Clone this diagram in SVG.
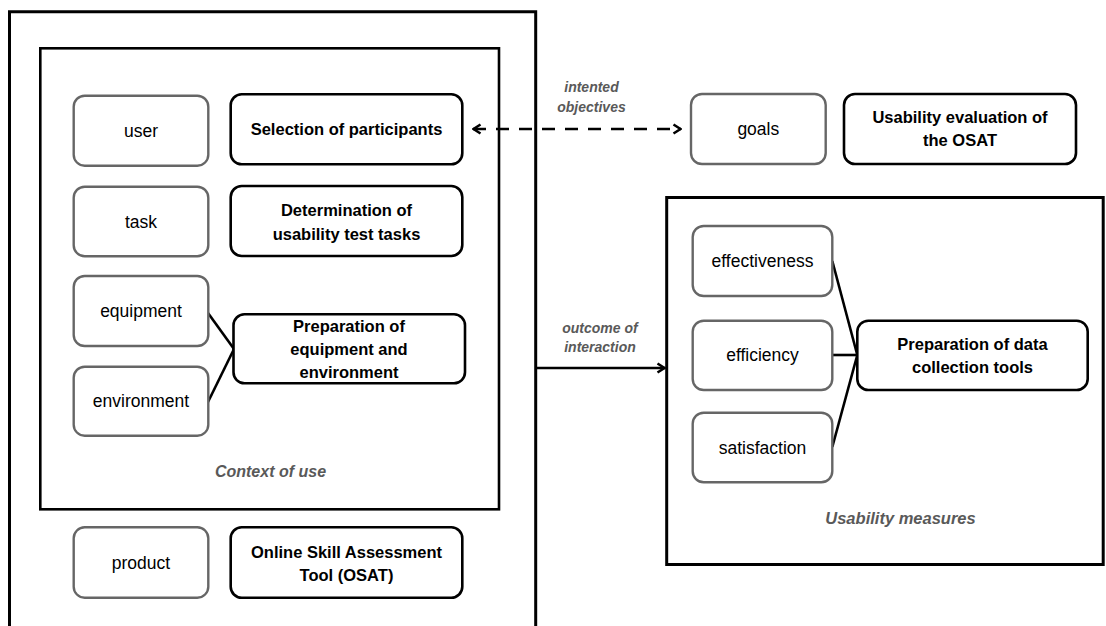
<svg xmlns="http://www.w3.org/2000/svg" width="1106" height="626" viewBox="0 0 1106 626">
<style>
  .frame{fill:none;stroke:#000;stroke-width:3}
  .ctx{fill:#fff;stroke:#000;stroke-width:2.6}
  .attr{fill:#fff;stroke:#666;stroke-width:2.4}
  .act{fill:#fff;stroke:#000;stroke-width:2.6}
  .lbl{font-family:"Liberation Sans",Arial,sans-serif;font-size:17.5px;fill:#000;text-anchor:middle}
  .bold{font-weight:bold;font-size:16.5px}
  .cap{font-family:"Liberation Sans",Arial,sans-serif;font-style:italic;font-weight:bold;fill:#595959;text-anchor:middle}
  .conn{fill:none;stroke:#000;stroke-width:2.6}
</style>
<defs>
  <marker id="chev" viewBox="0 0 10 12" refX="9" refY="6" markerWidth="10" markerHeight="12" markerUnits="userSpaceOnUse" orient="auto-start-reverse">
    <path d="M1.5,1.5 L8.5,6 L1.5,10.5" fill="none" stroke="#000" stroke-width="2.6"/>
  </marker>
</defs>
<rect width="1106" height="626" fill="#fff"/>

<g id="frame-outer">
  <path class="frame" d="M9.5,630 V11.7 H535.7 V630"/>
</g>
<g id="context-of-use">
  <rect class="ctx" x="40.3" y="48.3" width="458.7" height="461"/>
  <text class="cap" x="270.5" y="477" font-size="16">Context of use</text>
</g>
<g id="usability-measures">
  <rect class="frame" x="666.7" y="197.5" width="436.5" height="367"/>
  <text class="cap" x="900.5" y="523.5" font-size="16.5">Usability measures</text>
</g>

<g id="connectors">
  <line class="conn" x1="473" y1="129" x2="681" y2="129" stroke-width="3" stroke-dasharray="13 10" marker-start="url(#chev)" marker-end="url(#chev)"/>
  <line class="conn" x1="536" y1="368" x2="665" y2="368" marker-end="url(#chev)"/>
  <line class="conn" x1="208" y1="313" x2="234" y2="349"/>
  <line class="conn" x1="208" y1="402" x2="234" y2="349"/>
  <line class="conn" x1="832.3" y1="261" x2="857.3" y2="355"/>
  <line class="conn" x1="832.3" y1="355" x2="857.3" y2="355" stroke-width="3.4"/>
  <line class="conn" x1="832.3" y1="447" x2="857.3" y2="355"/>
</g>
<g id="connector-labels">
  <text class="cap" x="591.5" y="92" font-size="14">intented</text>
  <text class="cap" x="591.5" y="112" font-size="14">objectives</text>
  <text class="cap" x="600" y="333" font-size="14">outcome of</text>
  <text class="cap" x="600" y="352" font-size="14">interaction</text>
</g>

<g id="user">
  <rect class="attr" x="73.7" y="95.7" width="134.6" height="70" rx="11"/>
  <text class="lbl" x="141" y="137">user</text>
</g>
<g id="selection">
  <rect class="act" x="230.7" y="94.3" width="231.6" height="70" rx="11"/>
  <text class="lbl bold" x="346.5" y="135">Selection of participants</text>
</g>
<g id="task">
  <rect class="attr" x="73.7" y="186.7" width="134.6" height="69.5" rx="11"/>
  <text class="lbl" x="141" y="227.5">task</text>
</g>
<g id="determination">
  <rect class="act" x="230.7" y="186" width="231.6" height="70" rx="11"/>
  <text class="lbl bold" x="346.5" y="216">Determination of</text>
  <text class="lbl bold" x="346.5" y="239.5">usability test tasks</text>
</g>
<g id="equipment">
  <rect class="attr" x="73.7" y="276" width="134.6" height="70" rx="11"/>
  <text class="lbl" x="141" y="317">equipment</text>
</g>
<g id="environment">
  <rect class="attr" x="73.7" y="366.7" width="134.6" height="69" rx="11"/>
  <text class="lbl" x="141" y="407">environment</text>
</g>
<g id="prep-equipment">
  <rect class="act" x="233.5" y="314.3" width="231.5" height="69" rx="11"/>
  <text class="lbl bold" x="349" y="332">Preparation of</text>
  <text class="lbl bold" x="349" y="355">equipment and</text>
  <text class="lbl bold" x="349" y="378">environment</text>
</g>
<g id="product">
  <rect class="attr" x="73.7" y="527.3" width="134.6" height="70.4" rx="11"/>
  <text class="lbl" x="141" y="568.5">product</text>
</g>
<g id="osat">
  <rect class="act" x="230.7" y="527.3" width="231.6" height="70.4" rx="11"/>
  <text class="lbl bold" x="346.5" y="558">Online Skill Assessment</text>
  <text class="lbl bold" x="346.5" y="581">Tool (OSAT)</text>
</g>
<g id="goals">
  <rect class="attr" x="691" y="94" width="134.7" height="70" rx="11"/>
  <text class="lbl" x="758.3" y="135">goals</text>
</g>
<g id="usability-evaluation">
  <rect class="act" x="844" y="94" width="232" height="70" rx="11"/>
  <text class="lbl bold" x="960" y="123">Usability evaluation of</text>
  <text class="lbl bold" x="960" y="146">the OSAT</text>
</g>
<g id="effectiveness">
  <rect class="attr" x="692.7" y="226" width="139.6" height="70" rx="11"/>
  <text class="lbl" x="762.5" y="267">effectiveness</text>
</g>
<g id="efficiency">
  <rect class="attr" x="692.7" y="320.7" width="139.6" height="69.3" rx="11"/>
  <text class="lbl" x="762.5" y="361">efficiency</text>
</g>
<g id="satisfaction">
  <rect class="attr" x="692.7" y="412.7" width="139.6" height="69.6" rx="11"/>
  <text class="lbl" x="762.5" y="453.5">satisfaction</text>
</g>
<g id="prep-data">
  <rect class="act" x="857.3" y="320.7" width="230.4" height="69.3" rx="11"/>
  <text class="lbl bold" x="972.5" y="349.5">Preparation of data</text>
  <text class="lbl bold" x="972.5" y="373">collection tools</text>
</g>
</svg>
